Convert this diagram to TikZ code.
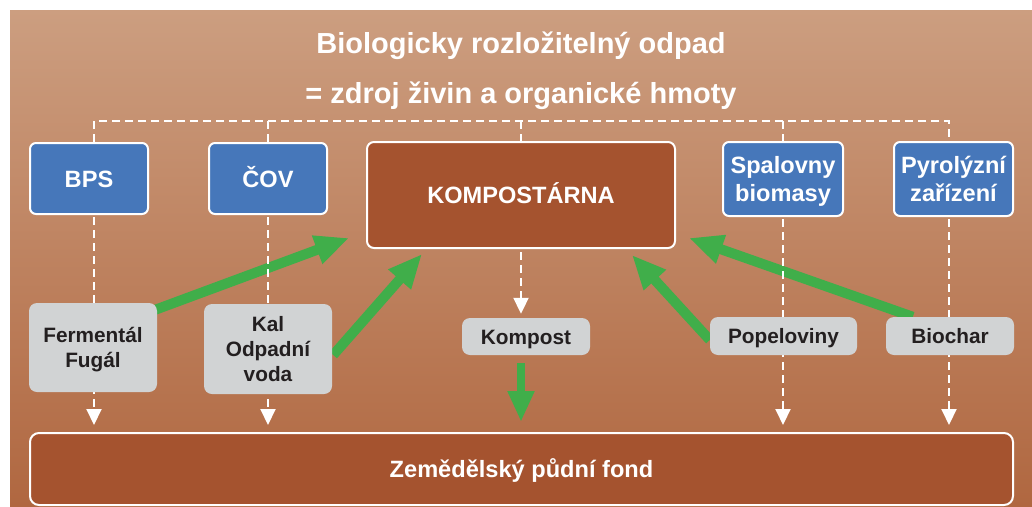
\documentclass[tikz,border=0pt]{standalone}
\usepackage{fontspec}
\setmainfont{Liberation Sans}
\usetikzlibrary{arrows.meta,calc}
\pgfdeclarelayer{bg}
\pgfdeclarelayer{mid}
\pgfsetlayers{bg,mid,main}
\definecolor{bgtop}{HTML}{CC9E80}
\definecolor{bgbot}{HTML}{B06740}
\definecolor{bluebox}{HTML}{4677BA}
\definecolor{rustbox}{HTML}{A5532F}
\definecolor{graybox}{HTML}{D1D3D4}
\definecolor{greenar}{HTML}{40AE4A}
\definecolor{darktext}{HTML}{231F20}
\begin{document}
\begin{tikzpicture}[x=1pt,y=-1pt,
  bluenode/.style={rectangle, rounded corners=6pt, fill=bluebox, draw=white, line width=2pt,
    text=white, font=\bfseries\fontsize{23.6}{28.5}\selectfont, align=center, inner sep=0pt, text depth=0pt},
  rustnode/.style={rectangle, rounded corners=7pt, fill=rustbox, draw=white, line width=2pt,
    text=white, font=\bfseries\fontsize{23.6}{28.5}\selectfont, align=center, inner sep=0pt, text depth=0pt},
  graynode/.style={rectangle, rounded corners=8pt, fill=graybox, draw=none,
    text=darktext, font=\bfseries\fontsize{20.8}{25}\selectfont, align=center, inner sep=0pt, text depth=0pt},
  bigline/.style={text height=17pt},
  smallline/.style={text height=15pt},
  titletext/.style={text=white, font=\bfseries\fontsize{29}{34}\selectfont, inner sep=0pt, anchor=base},
  dashline/.style={draw=white, line width=2pt, dash pattern=on 8pt off 5pt},
  dashtip/.style={-{Triangle[width=15pt,length=16pt]}},
  greenarrow/.style={draw=greenar, line width=10pt, -{Triangle[width=28pt,length=34pt]}},
  greendown/.style={draw=greenar, line width=8pt, -{Triangle[width=25pt,length=31pt]}}
]
\useasboundingbox (0,0) rectangle (1032,506);
\begin{pgfonlayer}{bg}
  \shade[top color=bgtop, bottom color=bgbot] (10,10) rectangle (1032,506);
\end{pgfonlayer}

% title
\node[titletext] (t1) at (521,53) {Biologicky rozložitelný odpad};
\node[titletext] (t2) at (521,103) {= zdroj živin a organické hmoty};

% top row
\node[bluenode, bigline, minimum width=118pt, minimum height=71pt] (bps) at (89,178.5) {BPS};
\node[bluenode, bigline, minimum width=118pt, minimum height=71pt] (cov) at (268,178.5) {ČOV};
\node[rustnode, bigline, minimum width=308pt, minimum height=106pt] (komp) at (521,195) {KOMPOSTÁRNA};
\node[bluenode, minimum width=120pt, minimum height=74pt] (spal) at (783,179) {Spalovny\\biomasy};
\node[bluenode, minimum width=119pt, minimum height=74pt] (pyro) at (953.5,179) {Pyrolýzní\\zařízení};

% middle row
\node[graynode, minimum width=128pt, minimum height=89pt] (fer) at (93,347.5) {Fermentál\\Fugál};
\node[graynode, minimum width=128pt, minimum height=90pt] (kal) at (268,349) {Kal\\Odpadní\\voda};
\node[graynode, smallline, minimum width=128pt, minimum height=37pt] (kompost) at (526,336.5) {Kompost};
\node[graynode, smallline, minimum width=147pt, minimum height=38pt] (popel) at (783.5,336) {Popeloviny};
\node[graynode, smallline, minimum width=128pt, minimum height=38pt] (bio) at (950,336) {Biochar};

% bottom
\node[rustnode, bigline, rounded corners=9pt, minimum width=983pt, minimum height=72pt] (zpf) at (521.5,469) {Zemědělský půdní fond};

\coordinate (busL) at (94,121);
\coordinate (busR) at (949,121);
\begin{pgfonlayer}{mid}
  % green arrows
  \draw[greenarrow] ([shift={(-2,7)}]fer.north east) -- ([shift={(-17,-11)}]komp.south west);
  \draw[greenarrow] ([shift={(1,6)}]kal.east) -- ([shift={(56,5)}]komp.south west);
  \draw[greendown] ($(komp.south |- kompost.south)+(0,8)$) -- ($(komp.south |- zpf.north)+(0,-10)$);
  \draw[greenarrow] ([shift={(0,4)}]popel.west) -- ([shift={(-44,6)}]komp.south east);
  \draw[greenarrow] ([shift={(27,0)}]bio.north west) -- ([shift={(13,-11)}]komp.south east);
  % dashed connectors
  \draw[dashline] (busL |- bps.north) -- (busL) -- (busR) -- (busR |- pyro.north);
  \draw[dashline] (cov.north |- busL) -- (cov.north);
  \draw[dashline] (komp.north |- busL) -- (komp.north);
  \draw[dashline] (spal.north |- busL) -- (spal.north);
  \draw[dashline, dashtip, shorten <=2pt, shorten >=7pt] (busL |- bps.south) -- (busL |- zpf.north);
  \draw[dashline, dashtip, shorten <=2pt, shorten >=7pt] (cov.south) -- (cov.south |- zpf.north);
  \draw[dashline, dashtip, shorten <=2pt, shorten >=7pt] (spal.south) -- (spal.south |- zpf.north);
  \draw[dashline, dashtip, shorten <=2pt, shorten >=7pt] (busR |- pyro.south) -- (busR |- zpf.north);
  \draw[dashline, dashtip, shorten <=3pt, shorten >=4pt] (komp.south) -- (komp.south |- kompost.north);
\end{pgfonlayer}
\end{tikzpicture}
\end{document}
